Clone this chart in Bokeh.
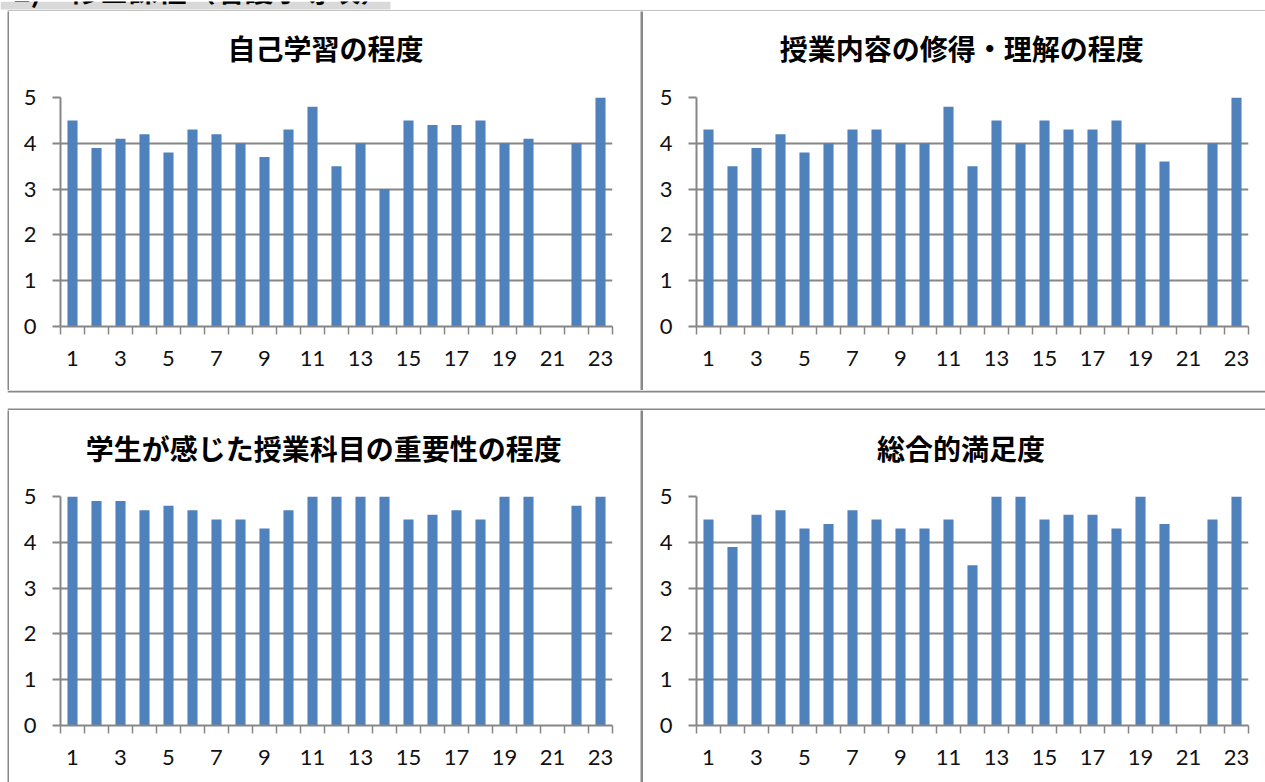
from bokeh.plotting import figure
from bokeh.layouts import column, row
from bokeh.models import Range1d, FixedTicker, Spacer
from bokeh.core.properties import value
from bokeh.embed import file_html
from bokeh.resources import INLINE

# ---------------- data ----------------
header_text = "2)　修士課程（看護学専攻）"
titles = ["自己学習の程度", "授業内容の修得・理解の程度",
          "学生が感じた授業科目の重要性の程度", "総合的満足度"]
categories = list(range(1, 24))
x_tick_labels = [1, 3, 5, 7, 9, 11, 13, 15, 17, 19, 21, 23]
y_ticks = [0, 1, 2, 3, 4, 5]

self_study = [4.5, 3.9, 4.1, 4.2, 3.8, 4.3, 4.2, 4.0, 3.7, 4.3, 4.8, 3.5,
              4.0, 3.0, 4.5, 4.4, 4.4, 4.5, 4.0, 4.1, None, 4.0, 5.0]
understanding = [4.3, 3.5, 3.9, 4.2, 3.8, 4.0, 4.3, 4.3, 4.0, 4.0, 4.8, 3.5,
                 4.5, 4.0, 4.5, 4.3, 4.3, 4.5, 4.0, 3.6, None, 4.0, 5.0]
importance = [5.0, 4.9, 4.9, 4.7, 4.8, 4.7, 4.5, 4.5, 4.3, 4.7, 5.0, 5.0,
              5.0, 5.0, 4.5, 4.6, 4.7, 4.5, 5.0, 5.0, None, 4.8, 5.0]
satisfaction = [4.5, 3.9, 4.6, 4.7, 4.3, 4.4, 4.7, 4.5, 4.3, 4.3, 4.5, 3.5,
                5.0, 5.0, 4.5, 4.6, 4.6, 4.3, 5.0, 4.4, None, 4.5, 5.0]

# ---------------- style ----------------
BAR = "#4f81bd"
GRAY = "#868686"
BORDER = "#888888"
NUM_FONT = "Lato"
CJK_FONT = "Noto Sans CJK JP"
MB_TOP = 16


def plain_fig(w, h, color="white", xr=(0, 1), yr=(0, 1)):
    f = figure(width=w, height=h, toolbar_location=None, output_backend="svg",
               x_range=Range1d(*xr), y_range=Range1d(*yr),
               x_axis_type=None, y_axis_type=None, min_border=0)
    f.outline_line_color = None
    f.background_fill_color = color
    f.border_fill_color = color
    return f


def title_fig(w, h, text, cx, cy):
    f = plain_fig(w, h, xr=(0, w), yr=(0, h))
    f.text(x=[cx], y=[cy], text=[text], text_align="center",
           text_baseline="middle", text_font=value(CJK_FONT),
           text_font_style="bold", text_font_size="28px", text_color="#000000")
    return f


def chart(vals, w, h, ml, mr, mb):
    p = figure(width=w, height=h, toolbar_location=None, output_backend="svg",
               x_range=Range1d(categories[0] - 0.5, categories[-1] + 0.5),
               y_range=Range1d(0, 5),
               min_border_left=ml, min_border_right=mr,
               min_border_top=MB_TOP, min_border_bottom=mb)
    xs = [c for c, v in zip(categories, vals) if v is not None]
    tops = [v for v in vals if v is not None]
    p.vbar(x=xs, top=tops, bottom=0, width=0.42, fill_color=BAR, line_color=None)
    p.outline_line_color = None
    p.background_fill_color = "white"
    p.border_fill_color = "white"

    bounds = [c - 0.5 for c in categories] + [categories[-1] + 0.5]
    xa = p.xaxis[0]
    xa.ticker = FixedTicker(ticks=x_tick_labels, minor_ticks=bounds)
    xa.axis_line_color = GRAY
    xa.axis_line_width = 2
    xa.major_tick_out = 0
    xa.major_tick_in = 0
    xa.minor_tick_out = 8
    xa.minor_tick_in = 0
    xa.minor_tick_line_color = GRAY
    xa.minor_tick_line_width = 1.5
    xa.major_label_standoff = 16
    xa.major_label_text_font = NUM_FONT
    xa.major_label_text_font_size = "22px"
    xa.major_label_text_color = "#111111"

    ya = p.yaxis[0]
    ya.ticker = FixedTicker(ticks=y_ticks)
    ya.axis_line_color = GRAY
    ya.axis_line_width = 2
    ya.major_tick_out = 8
    ya.major_tick_in = 0
    ya.minor_tick_out = 0
    ya.minor_tick_in = 0
    ya.major_tick_line_color = GRAY
    ya.major_tick_line_width = 2
    ya.major_label_standoff = 16
    ya.major_label_text_font = NUM_FONT
    ya.major_label_text_font_size = "22px"
    ya.major_label_text_color = "#111111"

    p.xgrid.visible = False
    p.ygrid.ticker = FixedTicker(ticks=y_ticks)
    p.ygrid.grid_line_color = GRAY
    p.ygrid.grid_line_width = 2
    return p


# top strip: header bar (cut off at top of page) + top border of the panels
top = plain_fig(1265, 11, xr=(0, 1265), yr=(0, 11))
top.quad(left=[0], right=[390], bottom=[3], top=[11], fill_color="#d9d9d9",
         line_color=None)
top.text(x=[13], y=[3], text=[header_text], text_baseline="bottom",
         text_font=value(CJK_FONT), text_font_style="bold",
         text_font_size="29px", text_color="#000000")
top.quad(left=[7], right=[1265], bottom=[0], top=[2], fill_color=BORDER,
         line_color=None)

# middle strip: bottom border of upper panels, gap, top border of lower panels
mid = plain_fig(1258, 20, xr=(0, 1258), yr=(0, 20))
mid.quad(left=[0, 0], right=[1258, 1258], bottom=[18, 0], top=[20, 2],
         fill_color=BORDER, line_color=None)

LW, RW = 631, 622
TITLE_H = 70
TOP_H, BOT_H = 379 - TITLE_H, 372 - TITLE_H

tl = column(title_fig(LW, TITLE_H, titles[0], 303, 34),
            chart(self_study, LW, TOP_H, 51, LW - 51 - 552, TOP_H - MB_TOP - 229))
tr = column(title_fig(RW, TITLE_H, titles[1], 299, 34),
            chart(understanding, RW, TOP_H, 53, RW - 53 - 552, TOP_H - MB_TOP - 229))
bl = column(title_fig(LW, TITLE_H, titles[2], 301, 33),
            chart(importance, LW, BOT_H, 51, LW - 51 - 552, BOT_H - MB_TOP - 229))
br = column(title_fig(RW, TITLE_H, titles[3], 298, 33),
            chart(satisfaction, RW, BOT_H, 53, RW - 53 - 552, BOT_H - MB_TOP - 229))

layout = column(
    top,
    row(Spacer(width=7, height=379), plain_fig(2, 379, BORDER), tl,
        plain_fig(3, 379, BORDER), tr),
    row(Spacer(width=7, height=20), mid),
    row(Spacer(width=7, height=372), plain_fig(2, 372, BORDER), bl,
        plain_fig(3, 372, BORDER), br),
)

open("out.html", "w").write(file_html(layout, INLINE))
